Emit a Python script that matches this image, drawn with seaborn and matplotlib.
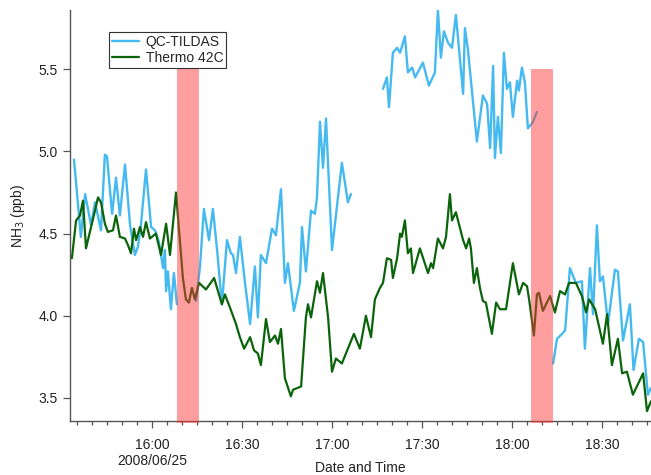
import numpy as np
import pandas as pd
import matplotlib
matplotlib.use("Agg")
import matplotlib.pyplot as plt
import matplotlib.dates as mdates
from matplotlib.lines import Line2D
from matplotlib.ticker import FuncFormatter, FixedLocator
import seaborn as sns

# ---------------- data (minutes after 2008-06-25 16:00, NH3 ppb) ----------------
date_label = "2008/06/25"
series_names = ["QC-TILDAS", "Thermo 42C"]

tildas_min_a = [-26.0, -23.7, -22.3, -20.3, -19.0, -17.0, -15.7, -15.0, -13.3, -12.0, -10.7,
                -9.0, -7.3, -5.7, -4.7, -3.7, -2.0, -0.3, 1.0, 2.3, 3.7, 4.3, 4.7, 5.3,
                6.3, 7.3, 8.3]
tildas_ppb_a = [4.95, 4.48, 4.74, 4.55, 4.69, 4.52, 4.98, 4.97, 4.62, 4.84, 4.61,
                4.92, 4.55, 4.37, 4.42, 4.55, 4.89, 4.54, 4.52, 4.45, 4.29, 4.40, 4.15, 4.27,
                4.04, 4.26, 4.07]

tildas_min_b = [14.7, 16.0, 17.3, 19.0, 20.3, 21.7, 23.3, 25.0, 26.3, 27.0, 28.0, 29.3,
                31.0, 32.7, 34.3, 35.3, 36.3, 38.0, 40.0, 41.3, 43.0, 44.3, 45.3, 47.3,
                49.3, 50.0, 51.3, 53.0, 54.3, 55.0, 56.0, 57.0, 58.0, 60.0, 63.3, 65.3, 66.3]
tildas_ppb_b = [4.09, 4.30, 4.65, 4.46, 4.65, 4.40, 4.07, 4.46, 4.38, 4.37, 4.26, 4.48,
                4.20, 3.95, 4.30, 3.99, 4.37, 4.32, 4.53, 4.49, 4.77, 4.20, 4.32, 4.03,
                4.20, 4.54, 4.27, 4.64, 4.62, 4.72, 5.18, 4.90, 5.20, 4.40, 4.93, 4.69, 4.74]

tildas_min_c = [77.0, 78.3, 79.0, 80.3, 81.7, 82.7, 84.3, 85.3, 86.7, 87.7, 90.3, 92.3,
                94.3, 95.3, 96.3, 97.3, 98.7, 100.0, 101.3, 103.7, 104.3, 105.3, 108.3,
                110.3, 111.7, 112.7, 113.7, 114.3, 115.3, 116.3, 117.3, 118.3, 119.3,
                120.3, 121.7, 122.3, 123.3, 124.3, 125.3, 127.0, 128.3]
tildas_ppb_c = [5.38, 5.45, 5.27, 5.60, 5.63, 5.60, 5.70, 5.48, 5.51, 5.45, 5.54, 5.40,
                5.48, 5.86, 5.57, 5.73, 5.66, 5.63, 5.83, 5.35, 5.75, 5.62, 5.06,
                5.34, 5.29, 5.02, 5.52, 4.96, 5.21, 4.99, 5.60, 5.38, 5.42,
                5.21, 5.43, 5.37, 5.51, 5.42, 5.14, 5.18, 5.24]

tildas_min_d = [133.7, 135.0, 136.7, 137.7, 139.3, 141.3, 143.3, 144.3, 146.0, 147.0,
                148.3, 149.3, 150.3, 152.0, 154.3, 155.3, 157.0, 159.3, 160.5, 162.3,
                163.7, 165.3, 166.3]
tildas_ppb_d = [3.71, 3.86, 3.89, 3.91, 4.29, 4.20, 4.21, 3.80, 4.29, 4.01,
                4.55, 4.21, 4.24, 3.95, 4.28, 4.27, 3.85, 4.07, 3.67, 3.86,
                3.84, 3.52, 3.56]

thermo_min = [-26.7, -25.3, -24.0, -23.0, -22.0, -20.3, -19.0, -18.0, -17.0, -15.7, -14.7,
              -13.0, -12.0, -10.7, -9.0, -8.0, -7.0, -6.0, -5.3, -4.0, -3.0, -2.0, -0.7,
              1.3, 3.0, 4.7, 6.0, 8.0, 9.3, 10.3, 11.3, 12.3, 13.3, 14.3, 15.7, 18.0,
              20.7, 23.3, 24.3, 26.0, 28.0, 29.3, 30.7, 32.7, 34.0, 35.3, 36.3, 38.0,
              39.3, 41.0, 42.0, 43.0, 44.3, 46.3, 47.0, 49.7, 51.3, 52.0, 53.0, 55.0,
              56.0, 57.0, 58.7, 60.0, 61.3, 63.3, 65.3, 67.3, 69.3, 71.3, 73.0, 74.3,
              76.0, 77.0, 78.3, 79.7, 80.3, 81.7, 82.7, 83.3, 84.3, 85.3, 86.3, 87.0,
              89.3, 92.0, 93.0, 93.7, 95.3, 97.0, 98.0, 99.3, 100.0, 101.3, 103.7,
              104.7, 105.7, 106.3, 107.3, 108.3, 109.3, 110.3, 111.3, 113.3, 114.7,
              116.0, 118.0, 120.3, 122.3, 123.7, 125.0, 125.7, 127.3, 128.3, 129.0,
              130.3, 132.7, 134.3, 136.0, 137.7, 139.0, 141.3, 143.3, 144.7, 145.7,
              147.7, 150.3, 151.7, 153.3, 155.3, 156.7, 158.3, 160.3, 163.7, 165.0, 166.3]
thermo_ppb = [4.35, 4.58, 4.61, 4.70, 4.41, 4.54, 4.64, 4.72, 4.69, 4.56, 4.51,
              4.52, 4.61, 4.48, 4.47, 4.43, 4.38, 4.53, 4.46, 4.54, 4.48, 4.57, 4.47,
              4.50, 4.37, 4.56, 4.37, 4.75, 4.46, 4.23, 4.10, 4.08, 4.17, 4.10, 4.20, 4.16,
              4.23, 4.07, 4.13, 4.05, 3.95, 3.87, 3.80, 3.87, 3.79, 3.77, 3.70, 3.98,
              3.84, 3.88, 3.83, 3.92, 3.62, 3.51, 3.55, 3.57, 3.99, 4.07, 3.99, 4.21,
              4.14, 4.26, 3.99, 3.66, 3.74, 3.71, 3.80, 3.89, 3.80, 4.00, 3.87, 4.10,
              4.17, 4.20, 4.35, 4.34, 4.23, 4.35, 4.50, 4.48, 4.58, 4.38, 4.41, 4.26,
              4.41, 4.26, 4.32, 4.29, 4.47, 4.41, 4.48, 4.74, 4.58, 4.63, 4.46,
              4.41, 4.47, 4.41, 4.20, 4.29, 4.17, 4.09, 4.08, 3.89, 4.08,
              4.04, 4.04, 4.32, 4.13, 4.20, 4.18, 4.10, 3.88, 4.13, 4.14,
              4.03, 4.12, 4.02, 4.15, 4.13, 4.20, 4.20, 4.12, 4.02, 4.10,
              4.04, 3.83, 4.01, 3.70, 3.86, 3.65, 3.66, 3.52, 3.65, 3.42, 3.48]

# shaded periods (minutes after 16:00) and their top value
shade_start_min = [8.33, 126.3]
shade_end_min = [15.67, 133.7]
shade_top_ppb = 5.5

yticks = [3.5, 4.0, 4.5, 5.0, 5.5]

# ---------------- build frames ----------------
base = pd.Timestamp("2008-06-25 16:00")

def to_time(mins):
    return base + pd.to_timedelta(np.asarray(mins, dtype=float), unit="m")

segs = [(tildas_min_a, tildas_ppb_a), (tildas_min_b, tildas_ppb_b),
        (tildas_min_c, tildas_ppb_c), (tildas_min_d, tildas_ppb_d)]
tildas_df = pd.concat([
    pd.DataFrame({"time": to_time(m), "nh3": v, "seg": i})
    for i, (m, v) in enumerate(segs)], ignore_index=True)
thermo_df = pd.DataFrame({"time": to_time(thermo_min), "nh3": thermo_ppb, "seg": 0})

# ---------------- plot ----------------
sns.set_style("ticks")
plt.rcParams["font.family"] = ["Liberation Sans", "DejaVu Sans"]
plt.rcParams["font.size"] = 10

blue = "#45BAF0"
green = "#0B640B"
axis_col = "#555555"

fig = plt.figure(figsize=(6.51, 4.75), dpi=100)
ax = fig.add_axes([70 / 651, 1 - 421 / 475, 581 / 651, 411 / 475])

sns.lineplot(data=tildas_df, x="time", y="nh3", units="seg", estimator=None,
             color=blue, linewidth=1.7, ax=ax, legend=False, zorder=2)
sns.lineplot(data=thermo_df, x="time", y="nh3", units="seg", estimator=None,
             color=green, linewidth=1.6, ax=ax, legend=False, zorder=2)

ylo, yhi = 3.36, 5.86
for s, e in zip(shade_start_min, shade_end_min):
    t = to_time([s, e])
    ax.fill_between(t, ylo - 0.012, shade_top_ppb, color="#FF3535", alpha=0.48,
                    linewidth=0, zorder=3, clip_on=False)

ax.set_xlim(to_time([-27.33])[0], to_time([166.33])[0])
ax.set_ylim(ylo, yhi)

ax.xaxis.set_major_locator(mdates.MinuteLocator(byminute=[0, 30]))
ax.xaxis.set_minor_locator(mdates.MinuteLocator(byminute=range(0, 60, 5)))

def fmt(x, pos):
    d = mdates.num2date(x)
    s = d.strftime("%H:%M")
    if d.hour == 16 and d.minute == 0:
        s += "\n" + date_label
    return s

ax.xaxis.set_major_formatter(FuncFormatter(fmt))
ax.yaxis.set_major_locator(FixedLocator(yticks))
ax.yaxis.set_major_formatter(FuncFormatter(lambda v, p: f"{v:.1f}"))

for side in ["top", "right"]:
    ax.spines[side].set_visible(False)
for side in ["left", "bottom"]:
    ax.spines[side].set_color(axis_col)
    ax.spines[side].set_linewidth(1.0)

ax.tick_params(axis="both", which="major", direction="out", length=5, width=0.9,
               color=axis_col, labelsize=10, labelcolor="#222222")
ax.tick_params(axis="x", which="minor", direction="out", length=3, width=0.9,
               color=axis_col)
ax.tick_params(axis="x", which="major", pad=7)
ax.tick_params(axis="y", which="major", pad=4)

ax.set_xlabel("Date and Time", fontsize=10, color="#222222")
ax.xaxis.set_label_coords(0.5, -0.097)
ax.set_ylabel("NH$_3$ (ppb)", fontsize=10, color="#222222")
ax.yaxis.set_label_coords(-0.074, 0.5)

handles = [Line2D([], [], color=blue, linewidth=1.7),
           Line2D([], [], color=green, linewidth=1.6)]
leg = ax.legend(handles, series_names, loc="upper left",
                bbox_to_anchor=(0.067, 0.946), borderaxespad=0, fancybox=False,
                edgecolor="#333333", framealpha=1, fontsize=10, borderpad=0.2,
                handlelength=2.0, handletextpad=0.45, labelspacing=0.15)
leg.get_frame().set_linewidth(0.8)

fig.savefig("out.png", dpi=100)
